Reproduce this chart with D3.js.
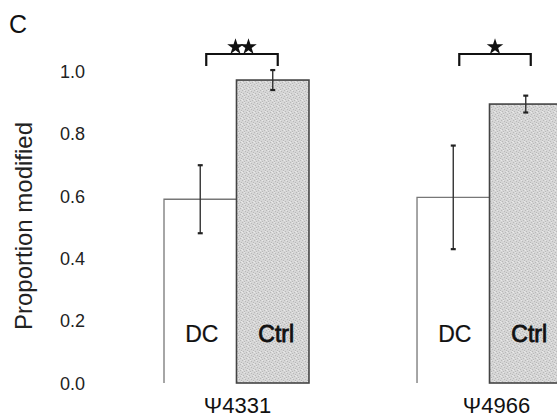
<!DOCTYPE html>
<html><head><meta charset="utf-8">
<script src="https://cdn.jsdelivr.net/npm/d3@7/dist/d3.min.js"></script>
<style>
html,body{margin:0;padding:0;background:#fff;}
svg{display:block;font-family:"Liberation Sans",Arial,sans-serif;}
</style></head>
<body>
<svg id="chart" width="557" height="419"></svg>
<script>
const groups = ["Ψ4331", "Ψ4966"];
const conditions = ["DC", "Ctrl"];
const means = [[0.589, 0.971], [0.595, 0.894]];
const errors = [[0.109, 0.032], [0.166, 0.027]];
const stars = ["**", "*"];
const yTicks = [0.0, 0.2, 0.4, 0.6, 0.8, 1.0];

const svg = d3.select("#chart");
// stipple texture for the control bars
const defs = svg.append("defs");
const pat = defs.append("pattern").attr("id", "stip").attr("patternUnits", "userSpaceOnUse")
  .attr("width", 6).attr("height", 6);
pat.append("rect").attr("width", 6).attr("height", 6).attr("fill", "#d6d6d6");
[[0,0],[3,1],[1,3],[4,4],[2,5],[5,2]].forEach(([a,b]) =>
  pat.append("rect").attr("x", a).attr("y", b).attr("width", 1).attr("height", 1).attr("fill", "#b8b8b8"));
[[2,0],[5,3],[0,4]].forEach(([a,b]) =>
  pat.append("rect").attr("x", a).attr("y", b).attr("width", 1).attr("height", 1).attr("fill", "#e8e8e8"));

const y = d3.scaleLinear().domain([0, 1]).range([383, 71]);
const xg = d3.scaleBand().domain(groups).range([164, 562]).paddingInner(0.427).paddingOuter(0);
const xc = d3.scaleBand().domain(conditions).range([0, xg.bandwidth()]);

// panel letter
svg.append("text").attr("x", 9).attr("y", 33).attr("font-size", 25).attr("fill", "#111").text("C");

// y axis labels (axis line is essentially invisible)
const yAxis = d3.axisLeft(y).tickValues(yTicks).tickFormat(d3.format(".1f")).tickSize(0).tickPadding(0);
const ga = svg.append("g").attr("transform", "translate(85,0)").call(yAxis);
ga.select(".domain").remove();
ga.selectAll("text").attr("font-size", 18).attr("fill", "#222").attr("font-family", "Liberation Sans, Arial, sans-serif").attr("dy", "0.35em");

svg.append("text")
  .attr("transform", "translate(32,226) rotate(-90)")
  .attr("text-anchor", "middle").attr("font-size", 24).attr("fill", "#222")
  .text("Proportion modified");

groups.forEach((g, gi) => {
  const gx = xg(g);
  const G = svg.append("g").attr("transform", `translate(${gx},0)`);
  conditions.forEach((c, ci) => {
    const v = means[gi][ci];
    const x0 = xc(c), w = xc.bandwidth();
    if (c === "DC") {
      G.append("path")
        .attr("d", `M${x0},${y(0)}V${y(v)}H${x0 + w}`)
        .attr("fill", "none").attr("stroke", "#777").attr("stroke-width", 1.3);
    } else {
      G.append("rect").attr("x", x0).attr("y", y(v)).attr("width", w).attr("height", y(0) - y(v))
        .attr("fill", "url(#stip)").attr("stroke", "#444").attr("stroke-width", 1.6);
    }
    // error bar
    const cx = x0 + w / 2, e = errors[gi][ci];
    G.append("line").attr("x1", cx).attr("x2", cx).attr("y1", y(v + e)).attr("y2", y(v - e))
      .attr("stroke", "#333").attr("stroke-width", 1.4);
    [v + e, v - e].forEach(t => {
      G.append("line").attr("x1", cx - 2.5).attr("x2", cx + 2.5).attr("y1", y(t)).attr("y2", y(t))
        .attr("stroke", "#222").attr("stroke-width", 2.2);
    });
    // condition label
    G.append("text").attr("x", cx + (c === "DC" ? 1.5 : 3.5)).attr("y", 342)
      .attr("text-anchor", "middle").attr("font-size", 23)
      .attr("stroke", "#111").attr("stroke-width", c === "Ctrl" ? 0.8 : 0.2)
      .attr("fill", "#111").text(c);
  });
  // significance bracket
  const bx1 = xc("DC") + xc.bandwidth() / 2 + 6, bx2 = xc("Ctrl") + xc.bandwidth() / 2 + 5;
  G.append("path").attr("d", `M${bx1},66V54H${bx2}V66`).attr("fill", "none")
    .attr("stroke", "#111").attr("stroke-width", 2.2);
  const n = stars[gi].length, mid = (bx1 + bx2) / 2;
  for (let k = 0; k < n; k++) {
    G.append("path").attr("d", d3.symbol(d3.symbolStar, 85)())
      .attr("transform", `translate(${mid + (k - (n - 1) / 2) * 13},47)`).attr("fill", "#111");
  }
  // group label
  G.append("text").attr("x", xg.bandwidth() / 2 + (gi === 0 ? 1 : 7)).attr("y", 413)
    .attr("text-anchor", "middle").attr("font-size", 22).attr("fill", "#111").text(g);
});
</script>
</body></html>
